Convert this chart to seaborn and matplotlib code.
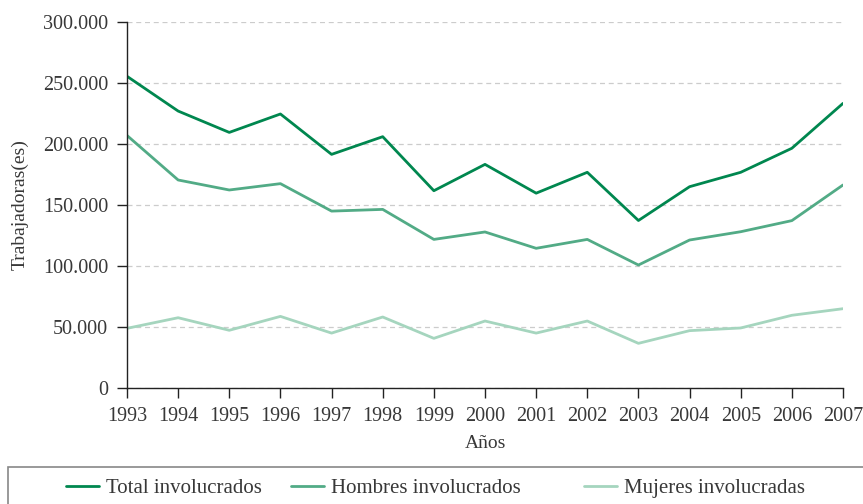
import matplotlib
matplotlib.use("Agg")
import matplotlib.pyplot as plt
import matplotlib.ticker as mticker
from matplotlib.patches import Rectangle
import seaborn as sns
import pandas as pd

years = list(range(1993, 2008))
total = [255500, 227000, 209500, 224600, 191500, 206000, 161700, 183300, 159700, 176800, 137300, 165000, 176800, 196500, 233300]
hombres = [207000, 170500, 162300, 167500, 145000, 146400, 121800, 127900, 114500, 121800, 100800, 121300, 128100, 137200, 166400]
mujeres = [48900, 57600, 47300, 58700, 45000, 58200, 40700, 54900, 45000, 54900, 36600, 47000, 49200, 59600, 65000]
series_names = ["Total involucrados", "Hombres involucrados", "Mujeres involucradas"]
colors = ["#00874f", "#52ab86", "#a5d5be"]
y_ticks = [0, 50000, 100000, 150000, 200000, 250000, 300000]

df = pd.DataFrame({
    "Años": years * 3,
    "valor": total + hombres + mujeres,
    "serie": [series_names[0]] * 15 + [series_names[1]] * 15 + [series_names[2]] * 15,
})

sns.set_theme(style="white")
plt.rcParams["font.family"] = ["Liberation Serif", "DejaVu Serif"]

fig = plt.figure(figsize=(8.63, 5.04), dpi=100)
ax = fig.add_axes([127 / 863, 1 - 388 / 504, (843 - 127) / 863, (388 - 22) / 504])

sns.lineplot(data=df, x="Años", y="valor", hue="serie", hue_order=series_names,
             palette=colors, linewidth=2, ax=ax, legend=True)

ax.set_xlim(1993, 2007)
ax.set_ylim(0, 300000)
ax.set_xticks(years)
ax.set_yticks(y_ticks)
ax.yaxis.set_major_formatter(mticker.FuncFormatter(lambda v, p: f"{int(v):,}".replace(",", ".")))
ax.grid(axis="y", color="#cccccc", linestyle=(0, (4, 3)), linewidth=0.9)
ax.grid(axis="x", visible=False)
for s in ["top", "right"]:
    ax.spines[s].set_visible(False)
for s in ["left", "bottom"]:
    ax.spines[s].set_color("#222222")
    ax.spines[s].set_linewidth(1.0)
ax.tick_params(axis="both", which="major", direction="out", length=7.5, width=1,
               color="#222222", labelsize=14.5, labelcolor="#383838", pad=6, bottom=True, left=True)
ax.set_xlabel("Años", fontsize=14, color="#383838", labelpad=7)
ax.set_ylabel("Trabajadoras(es)", fontsize=14, color="#383838", labelpad=10)

handles, labels = ax.get_legend_handles_labels()
ax.get_legend().remove()
fig.patches.append(Rectangle((8 / 863, -0.05), 1.0, 0.05 + (504 - 467) / 504,
                             transform=fig.transFigure, fill=False,
                             edgecolor="#888888", linewidth=1.2))
legend_x = [66, 291, 584]
for h, l, x in zip(handles, labels, legend_x):
    fig.legend([h], [l], loc="center left", bbox_to_anchor=(x / 863, 1 - 488 / 504),
               frameon=False, fontsize=15, handlelength=1.6, handletextpad=0.3,
               borderpad=0, borderaxespad=0, labelcolor="#383838")

fig.savefig("out.png", dpi=100)
